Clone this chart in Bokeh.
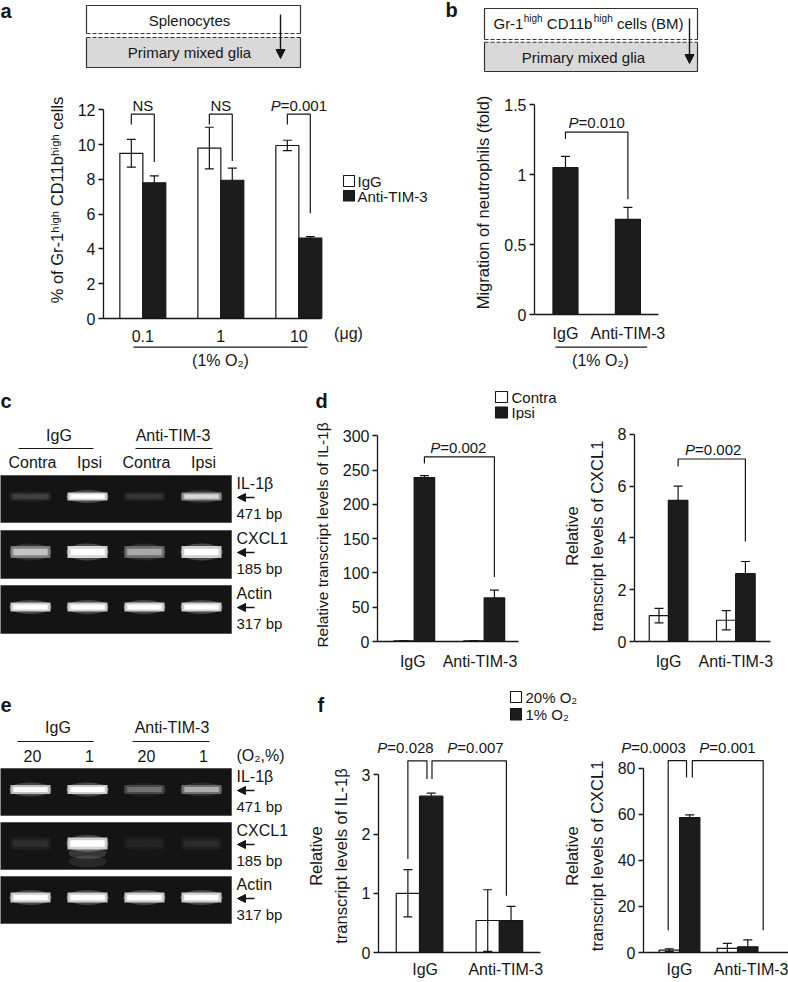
from bokeh.plotting import figure
from bokeh.layouts import row, column
from bokeh.models import Range1d, FixedTicker, NumeralTickFormatter, Arrow, NormalHead, ColumnDataSource
from bokeh.core.properties import value
from bokeh.embed import file_html
from bokeh.resources import INLINE

# ---------------- data ----------------
# panel a : % of Gr-1high CD11bhigh cells
a_doses = ["0.1", "1", "10"]
a_igg = [9.5, 9.8, 9.95]
a_igg_err = [0.8, 1.2, 0.3]
a_anti = [7.8, 7.95, 4.63]
a_anti_err = [0.4, 0.7, 0.08]
a_sig = ["NS", "NS", "0.001"]
a_yticks = [0, 2, 4, 6, 8, 10, 12]

# panel b : migration of neutrophils (fold)
b_groups = ["IgG", "Anti-TIM-3"]
b_fold = [1.05, 0.68]
b_fold_err = [0.08, 0.085]
b_yticks = [0, 0.5, 1, 1.5]

# panel c : gel band intensities (0-1)
c_lanes = ["Contra", "Ipsi", "Contra", "Ipsi"]
c_il1b = [0.10, 0.95, 0.08, 0.60]
c_cxcl1 = [0.50, 1.00, 0.40, 0.95]
c_actin = [0.95, 0.95, 0.95, 0.95]

# panel d
d_groups = ["IgG", "Anti-TIM-3"]
d_il1b_contra = [1.0, 1.0]
d_il1b_contra_err = [0.4, 0.4]
d_il1b_ipsi = [239.0, 63.5]
d_il1b_ipsi_err = [3.0, 11.5]
d_il1b_yticks = [0, 50, 100, 150, 200, 250, 300]
d_cxcl1_contra = [1.0, 0.82]
d_cxcl1_contra_err = [0.28, 0.37]
d_cxcl1_ipsi = [5.45, 2.62]
d_cxcl1_ipsi_err = [0.55, 0.47]
d_cxcl1_yticks = [0, 2, 4, 6, 8]

# panel e : gel band intensities (0-1)
e_lanes = ["20", "1", "20", "1"]
e_il1b = [0.85, 0.95, 0.22, 0.42]
e_cxcl1 = [0.06, 0.95, 0.04, 0.05]
e_actin = [0.95, 0.95, 0.95, 0.95]

# panel f
f_groups = ["IgG", "Anti-TIM-3"]
f_il1b_o20 = [1.0, 0.54]
f_il1b_o20_err = [0.4, 0.52]
f_il1b_o1 = [2.64, 0.54]
f_il1b_o1_err = [0.05, 0.24]
f_il1b_yticks = [0, 1, 2, 3]
f_cxcl1_o20 = [1.0, 1.8]
f_cxcl1_o20_err = [0.6, 2.2]
f_cxcl1_o1 = [58.6, 2.5]
f_cxcl1_o1_err = [1.2, 3.0]
f_cxcl1_yticks = [0, 20, 40, 60, 80]

# ---------------- style helpers ----------------
S = 1.0
FONT = "Liberation Sans"
INK = "#161616"
BAR = "#1c1c1c"
GEL = "#141414"


def P(v):
    return int(round(v * S))


def fs(v):
    return f"{v * S:.1f}px"


AW = {' ': 278, '(': 333, ')': 333, '-': 333, '.': 278, '=': 584, '%': 889,
      'A': 667, 'B': 667, 'C': 722, 'D': 722, 'G': 778, 'I': 278, 'M': 833, 'N': 722,
      'P': 667, 'S': 667, 'T': 611, 'a': 556, 'b': 556, 'c': 500, 'e': 556, 'g': 556,
      'h': 556, 'i': 222, 'l': 222, 'n': 556, 'p': 556, 'r': 333, 's': 500, 't': 278}


def em(s):
    return sum(AW.get(ch, 556) for ch in s) / 1000.0


def txt(p, x, y, s, size=15, align="left", baseline="middle", bold=False, italic=False,
        x_offset=0, color=INK):
    style = "bold" if bold else ("italic" if italic else "normal")
    p.text(x=[x], y=[y], text=[s], text_font=value(FONT), text_font_size=fs(size),
           text_align=align, text_baseline=baseline, text_color=color,
           text_font_style=style, x_offset=x_offset)


def deco(x0, x1, y0, y1):
    p = figure(width=P(x1 - x0), height=P(y1 - y0), x_range=Range1d(x0, x1),
               y_range=Range1d(y1, y0), output_backend="svg", toolbar_location=None,
               x_axis_location=None, y_axis_location=None, min_border=0,
               min_border_left=0, min_border_right=0, min_border_top=0, min_border_bottom=0,
               frame_align=False)
    p.outline_line_color = None
    p.grid.visible = False
    return p


def chart(w, h, l, r, t, b, xr, yr, yticks, ylabel, xlabels, xticks=None, xstand=5, fmt=None,
          xbounds=None, ylab_size=16.5):
    p = figure(width=P(w), height=P(h), x_range=Range1d(*xr), y_range=Range1d(*yr),
               output_backend="svg", toolbar_location=None, min_border=0,
               min_border_left=P(l), min_border_right=P(r), min_border_top=P(t),
               min_border_bottom=P(b), frame_align=False)
    p.outline_line_color = None
    p.grid.visible = False
    xa, ya = p.xaxis[0], p.yaxis[0]
    if xticks is None:
        xticks = list(range(1, len(xlabels) + 1))
    xa.ticker = FixedTicker(ticks=xticks)
    xa.major_label_overrides = {t_: s for t_, s in zip(xticks, xlabels)}
    if xbounds is not None:
        xa.bounds = xbounds
    xa.major_tick_line_color = None
    xa.minor_tick_line_color = None
    xa.axis_line_color = INK
    xa.axis_line_width = 1.3
    xa.major_label_text_font = FONT
    xa.major_label_text_font_size = fs(16)
    xa.major_label_text_color = INK
    xa.major_label_standoff = xstand
    ya.ticker = FixedTicker(ticks=yticks)
    ya.bounds = (yticks[0], yticks[-1])
    ya.axis_line_color = INK
    ya.axis_line_width = 1.3
    ya.major_tick_line_color = INK
    ya.major_tick_line_width = 1.3
    ya.major_tick_out = 5
    ya.major_tick_in = 0
    ya.minor_tick_line_color = None
    ya.major_label_text_font = FONT
    ya.major_label_text_font_size = fs(16)
    ya.major_label_text_color = INK
    ya.major_label_standoff = 3
    ya.axis_label = ylabel
    ya.axis_label_text_font = FONT
    ya.axis_label_text_font_size = fs(ylab_size)
    ya.axis_label_text_font_style = "normal"
    ya.axis_label_text_color = INK
    ya.axis_label_standoff = 9
    ya.axis_label_text_line_height = 1.35
    if fmt is not None:
        ya.formatter = fmt
    return p


def bars(p, xs, vals, errs, width, fill, both):
    up = [v + e for v, e in zip(vals, errs)]
    lo = [v - e if both else v for v, e in zip(vals, errs)]
    src = ColumnDataSource(dict(x=xs, top=vals, up=up, lo=lo))
    p.vbar(x="x", top="top", bottom=0, width=width, source=src, fill_color=fill,
           line_color=INK, line_width=1.2)
    p.segment(x0="x", y0="lo", x1="x", y1="up", source=src, line_color=INK, line_width=1.2)
    p.scatter(x="x", y="up", source=src, marker="dash", size=P(9), line_color=INK, line_width=1.2)
    if both:
        p.scatter(x="x", y="lo", source=src, marker="dash", size=P(9), line_color=INK,
                  line_width=1.2)


def brackets(p, items):
    xs = [[xl, xl, xr, xr] for (xl, xr, top, yl, yr) in items]
    ys = [[yl, top, top, yr] for (xl, xr, top, yl, yr) in items]
    p.multi_line(xs=xs, ys=ys, line_color=INK, line_width=1.2)


def plabel(p, x, y, num, size=15):
    # y is the vertical centre of the label
    if num == "NS":
        txt(p, x, y, "NS", size=size, align="center")
        return
    wp = AW['P'] / 1000.0 * size * S
    wr = em("=" + num) * size * S
    off = -(wp + wr) / 2.0 + wp
    txt(p, x, y, "P", size=size, align="right", italic=True, x_offset=off)
    txt(p, x, y, "=" + num, size=size, align="left", x_offset=off)


def arrow(p, xs, ys, xe, ye, size=9, width=1.4):
    p.add_layout(Arrow(end=NormalHead(size=P(size), fill_color=INK, line_color=INK, line_width=1),
                       x_start=xs, y_start=ys, x_end=xe, y_end=ye,
                       line_color=INK, line_width=width))


def legend_box(p, x0, x1, y0, y1, fill):
    p.quad(left=[x0], right=[x1], top=[y0], bottom=[y1], fill_color=fill, line_color=INK,
           line_width=1.1)


# ---------------- panel a ----------------
dA = deco(0, 432, 0, 78)
txt(dA, 0, 10, "a", size=20, bold=True)
dA.quad(left=[86], right=[300], top=[5], bottom=[33], fill_color="white", line_color=None)
dA.quad(left=[86], right=[300], top=[37], bottom=[67], fill_color="#d9d9d9", line_color=None)
dA.multi_line(xs=[[86, 86, 300, 300], [86, 86, 300, 300]], ys=[[33, 5, 5, 33], [37, 67, 67, 37]],
              line_color="#333333", line_width=1.2)
dA.multi_line(xs=[[86, 300], [86, 300]], ys=[[33, 33], [37, 37]], line_color="#333333",
              line_width=1.1, line_dash="4 2")
txt(dA, 189, 20, "Splenocytes", size=15, align="center")
txt(dA, 189, 52, "Primary mixed glia", size=15, align="center")
arrow(dA, 280, 14, 280, 58)

pA = chart(330, 266, 103, 0, 2.7, 24.7, (0.496, 3.406), (0, 13.63), a_yticks,
           "% of Gr-1ʰⁱᵍʰ CD11bʰⁱᵍʰ cells", a_doses, xstand=5, xbounds=(0.496, 3.291))
offA, wA = 0.147, 0.295
xa_igg = [i + 1 - offA for i in range(3)]
xa_anti = [i + 1 + offA for i in range(3)]
bars(pA, xa_igg, a_igg, a_igg_err, wA, "white", True)
bars(pA, xa_anti, a_anti, a_anti_err, wA, BAR, False)
a_brk_right = [9.0, 9.06, 6.06]
brackets(pA, [(xa_igg[i], xa_anti[i], 11.75, 11.15, a_brk_right[i]) for i in range(3)])
for i in range(3):
    plabel(pA, i + 1, 12.25, a_sig[i])

legA = deco(330, 432, 78, 344)
legend_box(legA, 343, 354, 175, 186, "white")
legend_box(legA, 343, 354, 190, 200.5, BAR)
txt(legA, 357, 180.5, "IgG", size=15)
txt(legA, 357, 195.5, "Anti-TIM-3", size=15)
txt(legA, 348, 333, "(μg)", size=16, align="center")

footA = deco(0, 432, 344, 372)
footA.line(x=[133, 307], y=[346.7, 346.7], line_color=INK, line_width=1.2)
txt(footA, 220, 360, "(1% O₂)", size=16, align="center")

# ---------------- panel b ----------------
dB = deco(432, 788, 0, 78)
txt(dB, 445, 9, "b", size=20, bold=True)
dB.quad(left=[484], right=[697], top=[8], bottom=[39], fill_color="white", line_color=None)
dB.quad(left=[484], right=[697], top=[41.7], bottom=[71], fill_color="#d9d9d9", line_color=None)
dB.multi_line(xs=[[484, 484, 697, 697], [484, 484, 697, 697]],
              ys=[[39, 8, 8, 39], [41.7, 71, 71, 41.7]], line_color="#333333", line_width=1.2)
dB.multi_line(xs=[[484, 697], [484, 697]], ys=[[39, 39], [41.7, 41.7]], line_color="#333333",
              line_width=1.1, line_dash="4 2")
# (text, size, vertical shift, gap before in em of the main font)
segs = [("Gr-1", 15, 0, 0.0), ("high", 10, -5.5, 0.02), ("CD11b", 15, 0, 0.278),
        ("high", 10, -5.5, 0.02), ("cells (BM)", 15, 0, 0.278)]
total = sum(em(s) * sz + g * 15 for s, sz, _, g in segs)
xcur = 588 - total / 2.0
for s, sz, dy, g in segs:
    xcur += g * 15
    txt(dB, xcur, 23 + dy, s, size=sz)
    xcur += em(s) * sz
txt(dB, 583, 57, "Primary mixed glia", size=15, align="center")
arrow(dB, 689, 18, 689, 63)

pB = chart(356, 266, 102.3, 130, 12, 24, (0.504, 2.49), (0, 1.6), b_yticks,
           "Migration of neutrophils (fold)", b_groups, xstand=4,
           fmt=NumeralTickFormatter(format="0.[0]"))
bars(pB, [1, 2], b_fold, b_fold_err, 0.40, BAR, False)
brackets(pB, [(1, 2, 1.303, 1.253, 0.823)])
plabel(pB, 1.5, 1.371, "0.010")

footB = deco(432, 788, 344, 372)
footB.line(x=[555, 646.7], y=[346.7, 346.7], line_color=INK, line_width=1.2)
txt(footB, 600, 360, "(1% O₂)", size=16, align="center")


# ---------------- gels (c, e) ----------------
def gel(p, rows, intens, heights, names, bps, lane_w=40, smear=None):
    lane_x = [30 + 57 * i for i in range(4)]
    for (y0, y1) in rows:
        p.quad(left=[0], right=[231], top=[y0], bottom=[y1], fill_color=GEL,
               line_color="#555555", line_width=1)
    for r, (y0, y1) in enumerate(rows):
        yc = (y0 + y1) / 2.0 - 2.5
        h = heights[r]
        I = intens[r]
        src = ColumnDataSource(dict(x=lane_x, y=[yc] * 4,
                                    a1=[0.28 * v for v in I], a2=[0.85 * v for v in I],
                                    a3=[min(1.0, 1.05 * v) for v in I]))
        p.ellipse(x="x", y="y", width=lane_w * 1.06, height=h + 5, source=src,
                  fill_color="#d8d8d8", fill_alpha="a1", line_color=None)
        p.rect(x="x", y="y", width=lane_w, height=h, source=src,
               fill_color="#eeeeee", fill_alpha="a2", line_color=None)
        p.rect(x="x", y="y", width=lane_w * 0.86, height=h * 0.55, source=src,
               fill_color="white", fill_alpha="a3", line_color=None)
        if smear is not None and smear[r] is not None:
            for k, (dyk, hk, ak) in enumerate([(0.8, 1.0, 0.16), (1.5, 1.0, 0.09)]):
                s2 = ColumnDataSource(dict(x=lane_x, y=[yc + h * dyk] * 4,
                                           a=[ak * v for v in smear[r]]))
                p.ellipse(x="x", y="y", width=lane_w * 0.95, height=h * hk, source=s2,
                          fill_color="white", fill_alpha="a", line_color=None)
        txt(p, 236, y0 + 8, names[r], size=16)
        arrow(p, 254, y0 + 22, 237, y0 + 22, size=8, width=1.6)
        txt(p, 236, y0 + 38, bps[r], size=15)
    return lane_x


gC = deco(0, 300, 372, 672)
txt(gC, 0, 400, "c", size=20, bold=True)
txt(gC, 58.5, 435, "IgG", size=16, align="center")
txt(gC, 172.5, 435, "Anti-TIM-3", size=16, align="center")
gC.multi_line(xs=[[18, 93], [135, 212]], ys=[[448, 448], [448, 448]], line_color=INK,
              line_width=1.2)
lx = gel(gC, [(475, 522), (530, 578), (585, 633)], [c_il1b, c_cxcl1, c_actin], [8, 12, 9],
         ["IL-1β", "CXCL1", "Actin"], ["471 bp", "185 bp", "317 bp"])
for i, s in enumerate(c_lanes):
    txt(gC, lx[i] + 2, 462, s, size=16, align="center")

gE = deco(0, 300, 672, 980)
txt(gE, 0, 704, "e", size=20, bold=True)
txt(gE, 57.5, 727, "IgG", size=16, align="center")
txt(gE, 171.5, 727, "Anti-TIM-3", size=16, align="center")
gE.multi_line(xs=[[17, 93], [132, 209]], ys=[[741, 741], [741, 741]], line_color=INK,
              line_width=1.2)
lx = gel(gE, [(768, 815), (822, 869), (876, 923)], [e_il1b, e_cxcl1, e_actin], [9, 12, 10],
         ["IL-1β", "CXCL1", "Actin"], ["471 bp", "185 bp", "317 bp"],
         smear=[None, e_cxcl1, None])
for i, s in enumerate(e_lanes):
    txt(gE, lx[i] + 2, 755, s, size=16, align="center")
txt(gE, 236, 755, "(O₂,%)", size=16)

# ---------------- panel d ----------------
hD = deco(300, 788, 372, 420)
txt(hD, 315, 400, "d", size=20, bold=True)
legend_box(hD, 495, 507, 391, 402, "white")
legend_box(hD, 495, 507, 406.5, 417.5, BAR)
txt(hD, 511, 396.5, "Contra", size=15)
txt(hD, 511, 412, "Ipsi", size=15)

pD1 = chart(260, 252, 77.3, 41.7, 8, 23.7, (0.476, 2.49), (0, 310.7), d_il1b_yticks,
            "Relative transcript levels of IL-1β", d_groups, xticks=[0.98, 1.94], xstand=5,
            ylab_size=15.5)
offD, wD = 0.146, 0.293
bars(pD1, [1 - offD, 2 - offD], d_il1b_contra, d_il1b_contra_err, wD, "white", True)
bars(pD1, [1 + offD, 2 + offD], d_il1b_ipsi, d_il1b_ipsi_err, wD, BAR, False)
brackets(pD1, [(1 + offD, 2 + offD, 269.4, 259.5, 94)])
plabel(pD1, 1.63, 282.5, "0.002")

pD2 = chart(228, 252, 67.7, 18, 10, 23.3, (0.494, 2.515), (0, 8.15), d_cxcl1_yticks,
            "Relative\ntranscript levels of CXCL1", d_groups, xstand=5)
offD2, wD2 = 0.142, 0.29
bars(pD2, [1 - offD2, 2 - offD2], d_cxcl1_contra, d_cxcl1_contra_err, wD2, "white", True)
bars(pD2, [1 + offD2, 2 + offD2], d_cxcl1_ipsi, d_cxcl1_ipsi_err, wD2, BAR, False)
brackets(pD2, [(1 + offD2, 2 + offD2, 7.05, 6.76, 3.86)])
plabel(pD2, 1.663, 7.43, "0.002")

# ---------------- panel f ----------------
hF = deco(300, 788, 672, 759)
txt(hF, 317, 704, "f", size=20, bold=True)
legend_box(hF, 510, 521, 691, 702, "white")
legend_box(hF, 510, 521, 708, 719.5, BAR)
txt(hF, 525, 696.5, "20% O₂", size=15)
txt(hF, 525, 714, "1% O₂", size=15)
f_pvals = [(405, "0.028"), (475, "0.007"), (653, "0.0003"), (727, "0.001")]
for xp, pv in f_pvals:
    plabel(hF, xp, 747, pv)

pF1 = chart(260, 221, 78.3, 20, 0, 20, (0.486, 2.515), (0, 3.259), f_il1b_yticks,
            "Relative\ntranscript levels of IL-1β", f_groups, xticks=[1.07, 2.08], xstand=2)
offF, wF = 0.146, 0.292
bars(pF1, [1 - offF, 2 - offF], f_il1b_o20, f_il1b_o20_err, wF, "white", True)
bars(pF1, [1 + offF, 2 + offF], f_il1b_o1, f_il1b_o1_err, wF, BAR, False)
brackets(pF1, [(1 - offF, 1.093, 3.236, 1.58, 2.93), (1.156, 2.088, 3.236, 2.93, 0.96)])

pF2 = chart(228, 221, 67.7, 0, 0, 20, (0.38, 2.877), (0, 83.88), f_cxcl1_yticks,
            "Relative\ntranscript levels of CXCL1", f_groups, xticks=[1, 2.27], xstand=2)
offF2, wF2 = 0.176, 0.35
bars(pF2, [1 - offF2, 2 - offF2], f_cxcl1_o20, f_cxcl1_o20_err, wF2, "white", True)
bars(pF2, [1 + offF2, 2 + offF2], f_cxcl1_o1, f_cxcl1_o1_err, wF2, BAR, False)
brackets(pF2, [(0.805, 1.121, 83.4, 9.7, 76.1), (1.221, 2.441, 83.4, 76.1, 9.7)])

# ---------------- layout ----------------
colA = column(dA, row(pA, legA), footA)
colB = column(dB, pB, footB)
row1 = row(colA, colB)
row2 = row(gC, column(hD, row(pD1, pD2)))
row3 = row(gE, column(hF, row(pF1, pF2)))
layout = column(row1, row2, row3)

open("out.html", "w").write(file_html(layout, INLINE, title="TIM-3 figure"))
